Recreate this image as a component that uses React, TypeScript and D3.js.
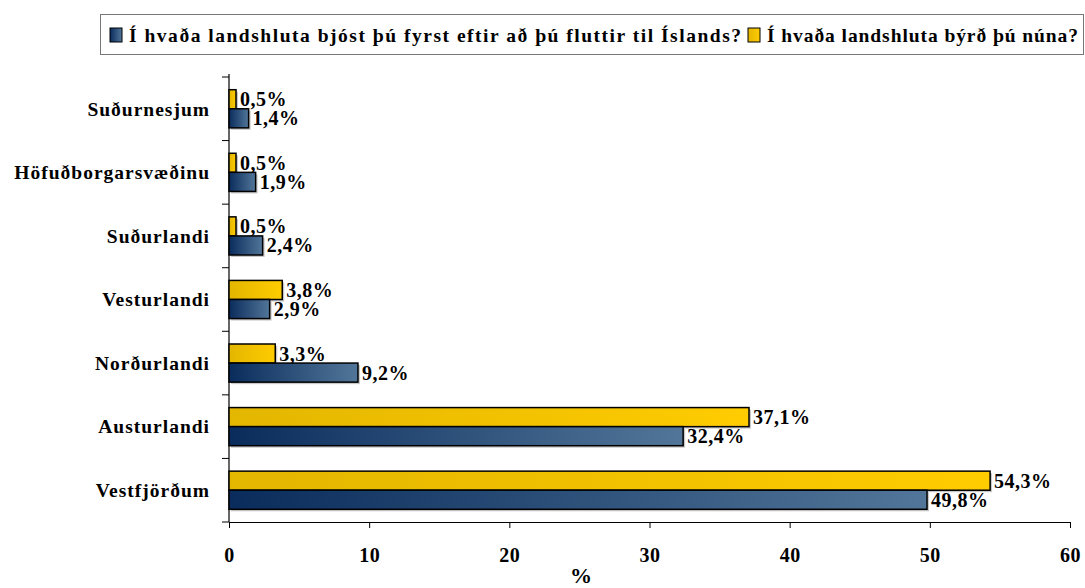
import React, { useEffect, useRef } from "react";
import * as d3 from "d3";

const categories = [
  "Suðurnesjum",
  "Höfuðborgarsvæðinu",
  "Suðurlandi",
  "Vesturlandi",
  "Norðurlandi",
  "Austurlandi",
  "Vestfjörðum",
];
const firstValues = [1.4, 1.9, 2.4, 2.9, 9.2, 32.4, 49.8];
const nowValues = [0.5, 0.5, 0.5, 3.8, 3.3, 37.1, 54.3];
const xTicks = [0, 10, 20, 30, 40, 50, 60];
const seriesNames = [
  "Í hvaða landshluta bjóst þú fyrst eftir að þú fluttir til Íslands?",
  "Í hvaða landshluta býrð þú núna?",
];

const fmt = (v: number) => v.toFixed(1).replace(".", ",") + "%";

const App: React.FC = () => {
  const svgRef = useRef<SVGSVGElement>(null);

  useEffect(() => {
    if (!svgRef.current) return;
    const svg = d3.select(svgRef.current);
    svg.selectAll("*").remove();

    const width = 1085;
    const height = 588;
    const margin = { top: 77, right: 15, bottom: 66, left: 229 };
    const font = "'Liberation Serif', 'Times New Roman', serif";

    svg.attr("width", width).attr("height", height);

    // Gradients
    const defs = svg.append("defs");
    const blue = defs.append("linearGradient").attr("id", "gBlue");
    blue.append("stop").attr("offset", "0%").attr("stop-color", "#0a2c5c");
    blue.append("stop").attr("offset", "100%").attr("stop-color", "#527699");
    const yellow = defs.append("linearGradient").attr("id", "gYellow");
    yellow.append("stop").attr("offset", "0%").attr("stop-color", "#e3b600");
    yellow.append("stop").attr("offset", "100%").attr("stop-color", "#ffcc00");

    const x = d3
      .scaleLinear()
      .domain([0, 60])
      .range([margin.left, width - margin.right]);

    const y = d3
      .scaleBand()
      .domain(categories)
      .range([margin.top, height - margin.bottom])
      .paddingInner(0.4)
      .paddingOuter(0.2);

    const sub = d3
      .scaleBand()
      .domain(["now", "first"])
      .range([0, y.bandwidth()]);

    const axisY = height - margin.bottom;

    // X axis
    const xAxis = svg
      .append("g")
      .attr("transform", `translate(0,${axisY})`)
      .call(
        d3
          .axisBottom(x)
          .tickValues(xTicks)
          .tickSize(6)
          .tickSizeOuter(0)
          .tickPadding(20)
      );
    xAxis.select(".domain").attr("stroke", "#000").attr("stroke-width", 1.2);
    xAxis.selectAll(".tick line").attr("stroke", "#000");
    xAxis
      .selectAll("text")
      .attr("fill", "#000")
      .attr("font-family", font)
      .attr("font-weight", "bold")
      .attr("font-size", "20px")
      .attr("letter-spacing", "0.5px");

    svg
      .append("text")
      .attr("x", 581)
      .attr("y", 583)
      .attr("text-anchor", "middle")
      .attr("font-family", font)
      .attr("font-weight", "bold")
      .attr("font-size", "22px")
      .text("%");

    // Y axis
    const bandEdges = d3.range(categories.length + 1).map(
      (i) => margin.top + (i * (axisY - margin.top)) / categories.length
    );
    svg
      .append("line")
      .attr("x1", margin.left)
      .attr("x2", margin.left)
      .attr("y1", margin.top - 3)
      .attr("y2", axisY)
      .attr("stroke", "#000")
      .attr("stroke-width", 1.2);
    svg
      .append("g")
      .selectAll("line")
      .data(bandEdges)
      .enter()
      .append("line")
      .attr("x1", margin.left - 7)
      .attr("x2", margin.left)
      .attr("y1", (d) => d)
      .attr("y2", (d) => d)
      .attr("stroke", "#000");

    svg
      .append("g")
      .selectAll("text")
      .data(categories)
      .enter()
      .append("text")
      .attr("x", margin.left - 19)
      .attr("y", (d) => (y(d) || 0) + y.bandwidth() / 2)
      .attr("dy", "0.35em")
      .attr("text-anchor", "end")
      .attr("font-family", font)
      .attr("font-weight", "bold")
      .attr("font-size", "19.5px")
      .attr("letter-spacing", "1px")
      .text((d) => d);

    // Bars
    const rows = categories.map((c, i) => ({
      cat: c,
      first: firstValues[i],
      now: nowValues[i],
    }));

    const groups = svg
      .append("g")
      .selectAll("g")
      .data(rows)
      .enter()
      .append("g")
      .attr("transform", (d) => `translate(0,${y(d.cat)})`);

    const series = [
      { key: "now", fill: "url(#gYellow)", get: (d: any) => d.now },
      { key: "first", fill: "url(#gBlue)", get: (d: any) => d.first },
    ];

    series.forEach((s) => {
      // shadow
      groups
        .append("rect")
        .attr("x", x(0) + 2)
        .attr("y", (sub(s.key) || 0) + 2)
        .attr("width", (d) => x(s.get(d)) - x(0))
        .attr("height", sub.bandwidth())
        .attr("fill", "#c8c8c8");
    });
    series.forEach((s) => {
      groups
        .append("rect")
        .attr("x", x(0))
        .attr("y", sub(s.key) || 0)
        .attr("width", (d) => x(s.get(d)) - x(0))
        .attr("height", sub.bandwidth())
        .attr("fill", s.fill)
        .attr("stroke", "#000")
        .attr("stroke-width", 1.5);

      groups
        .append("text")
        .attr("x", (d) => x(s.get(d)) + 4)
        .attr("y", (sub(s.key) || 0) + sub.bandwidth() / 2)
        .attr("dy", "0.35em")
        .attr("font-family", font)
        .attr("font-weight", "bold")
        .attr("font-size", "20px")
        .attr("letter-spacing", "0.5px")
        .attr("fill", "#000")
        .text((d) => fmt(s.get(d)));
    });

    // Legend
    const legend = svg.append("g");
    legend
      .append("rect")
      .attr("x", 100.5)
      .attr("y", 14.5)
      .attr("width", 983)
      .attr("height", 40)
      .attr("fill", "#fff")
      .attr("stroke", "#777")
      .attr("stroke-width", 1);

    const legendItems = [
      { name: seriesNames[0], fill: "url(#gBlue)", x: 110, len: 612 },
      { name: seriesNames[1], fill: "url(#gYellow)", x: 748, len: 311 },
    ];
    legendItems.forEach((it) => {
      legend
        .append("rect")
        .attr("x", it.x)
        .attr("y", 28)
        .attr("width", 12)
        .attr("height", 14)
        .attr("fill", it.fill)
        .attr("stroke", "#000")
        .attr("stroke-width", 1);
      legend
        .append("text")
        .attr("x", it.x + 19)
        .attr("y", 35)
        .attr("dy", "0.35em")
        .attr("font-family", font)
        .attr("font-weight", "bold")
        .attr("font-size", "19.5px")
        .attr("textLength", it.len)
        .attr("lengthAdjust", "spacing")
        .text(it.name);
    });
  }, []);

  return (
    <div style={{ position: "absolute", left: 0, top: 0 }}>
      <svg ref={svgRef} style={{ display: "block" }}></svg>
    </div>
  );
};

export default App;
